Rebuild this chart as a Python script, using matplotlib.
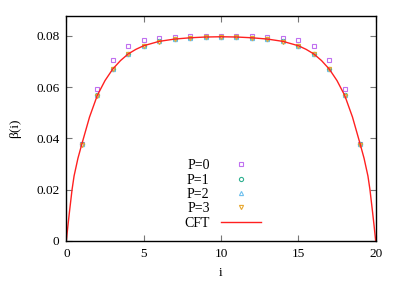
import matplotlib.pyplot as plt

plt.rcParams['font.family'] = ['Liberation Serif', 'DejaVu Serif']

# lattice sites
sites = list(range(1, 20))

# beta(i) for each P
p0 = [0.0377, 0.0591, 0.0704, 0.0760, 0.0784, 0.0791, 0.0796, 0.0798, 0.0798, 0.0798,
      0.0798, 0.0798, 0.0796, 0.0791, 0.0784, 0.0760, 0.0704, 0.0591, 0.0377]
p1 = [0.0376, 0.0567, 0.0670, 0.0729, 0.0761, 0.0778, 0.0787, 0.0792, 0.0794, 0.0795,
      0.0794, 0.0792, 0.0787, 0.0778, 0.0761, 0.0729, 0.0670, 0.0567, 0.0376]
p2 = [0.0376, 0.0568, 0.0671, 0.0729, 0.0761, 0.0778, 0.0787, 0.0792, 0.0794, 0.0795,
      0.0794, 0.0792, 0.0787, 0.0778, 0.0761, 0.0729, 0.0671, 0.0568, 0.0376]
p3 = [0.0375, 0.0566, 0.0670, 0.0728, 0.0760, 0.0777, 0.0786, 0.0791, 0.0794, 0.0795,
      0.0794, 0.0791, 0.0786, 0.0777, 0.0760, 0.0728, 0.0670, 0.0566, 0.0375]

# CFT curve
cft_x = [0, 0.1, 0.2, 0.37, 0.5, 0.75, 1.0, 1.5, 2.0, 2.5, 3.0, 3.5, 4.0, 4.5, 5.0, 6.0, 7.0, 8.0, 9.0,
         10.0, 11.0, 12.0, 13.0, 14.0, 15.0, 15.5, 16.0, 16.5, 17.0, 17.5, 18.0, 18.5, 19.0, 19.25, 19.5,
         19.63, 19.8, 19.9, 20]
cft_y = [0, 0.0058, 0.0112, 0.0200, 0.0253, 0.0322, 0.0377, 0.0483, 0.0567, 0.0625, 0.0670, 0.0703,
         0.0729, 0.0747, 0.0761, 0.0778, 0.0787, 0.0792, 0.0795, 0.0796, 0.0795, 0.0792, 0.0787, 0.0778,
         0.0761, 0.0747, 0.0729, 0.0703, 0.0670, 0.0625, 0.0567, 0.0483, 0.0377, 0.0322, 0.0253,
         0.0200, 0.0112, 0.0058, 0]

fig = plt.figure(figsize=(4.07, 2.85), dpi=100)
ax = fig.add_axes([0.163, 0.155, 0.76, 0.788])

ax.plot(sites, p0, 's', ms=3.5, mfc='none', mec='#c070f0', mew=0.8, label='P=0')
ax.plot(sites, p1, 'o', ms=3.0, mfc='none', mec='#30b090', mew=0.8, label='P=1')
ax.plot(sites, p2, '^', ms=3.0, mfc='none', mec='#70c0ee', mew=0.8, label='P=2')
ax.plot(sites, p3, 'v', ms=3.0, mfc='none', mec='#e8a830', mew=0.8, label='P=3')
ax.plot(cft_x, cft_y, '-', color='#ff2020', lw=1.0, label='CFT')

ax.set_xlim(0, 20)
ax.set_ylim(0, 0.0876)
ax.set_xticks([0, 5, 10, 15, 20])
ax.set_yticks([0, 0.02, 0.04, 0.06, 0.08])
ax.set_yticklabels(['0', '0.02', '0.04', '0.06', '0.08'])
ax.tick_params(direction='in', length=4, width=0.8, color='#777777', top=True, right=True,
               labelsize=9.5, pad=5)
for s in ax.spines.values():
    s.set_linewidth(1.0)

ax.set_xlabel('i', fontsize=9.5, labelpad=5)
ax.set_ylabel('β(i)', fontsize=9.5, labelpad=11)

ax.legend(loc='lower center', bbox_to_anchor=(0.505, 0.0), frameon=False, markerfirst=False,
          fontsize=10, handlelength=2.9, labelspacing=0.1, borderpad=0.3, handletextpad=0.8)

plt.savefig('out.png', dpi=100)
